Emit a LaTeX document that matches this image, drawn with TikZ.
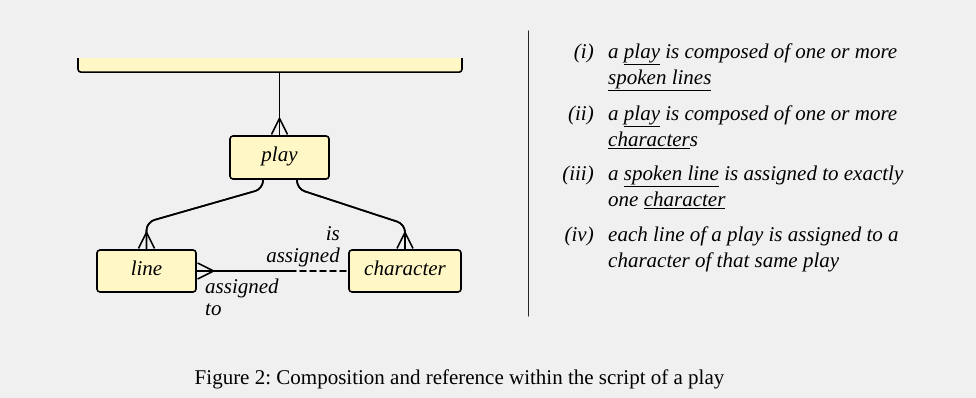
\documentclass[tikz,border=0pt]{standalone}
\usepackage{fontspec}
\setmainfont{Liberation Serif}
\usetikzlibrary{arrows.meta}
\definecolor{bg}{HTML}{F0F0F0}
\definecolor{entfill}{HTML}{FFF8C6}
\newcommand\figfont{\fontsize{21}{26}\selectfont}
\tikzset{
  entity/.style={draw, fill=entfill, line width=1.6pt, rounded corners=3pt, inner sep=0pt,
    minimum height=42pt, text height=14.5pt, text depth=5.5pt, font=\figfont\itshape},
  link/.style={line width=1.6pt},
  crow/.style={postaction={draw, -{Straight Barb[reversed,length=16pt,width=16pt]}}},
  note/.style={inner sep=0pt, font=\figfont\itshape},
  rolename/.style={inner sep=0pt, font=\fontsize{21}{22}\selectfont\itshape},
}
\begin{document}
\begin{tikzpicture}[x=1pt,y=1pt,line cap=round]
  \fill[bg] (0,0) rectangle (976,398);
  \useasboundingbox (0,0) rectangle (976,398);

  \begin{scope}
    \clip (0,0) rectangle (976,339);
    \node[entity, minimum width=384pt, minimum height=40pt, anchor=south] (script) at (270,325) {};
  \end{scope}
  \node[entity, minimum width=99pt, minimum height=43pt] (play) at (279.5,240.5) {play};
  \node[entity, minimum width=99pt] (line) at (146.5,127) {line};
  \node[entity, minimum width=112pt] (character) at (405,127) {character};

  \draw[link, crow] (script.south -| play.north) -- (play.north);
  \draw[link, crow, rounded corners=8pt] ([xshift=-16.5pt]play.south) -- ++(0,-9)
    -- ([yshift=27pt]line.north) -- (line.north);
  \draw[link, crow, rounded corners=8pt] ([xshift=17.5pt]play.south) -- ++(0,-9)
    -- ([yshift=25pt]character.north) -- (character.north);

  \coordinate (split) at (290,127);
  \draw[link, crow] (split) -- (line.east);
  \draw[link, dash pattern=on 6pt off 4pt] (split) -- (character.west);

  \node[rolename, anchor=base east] (isassigned) at (340,157)
    {\begin{tabular}[t]{@{}r@{}}is\\assigned\end{tabular}};
  \node[rolename, anchor=base west] (assignedto) at (205,104.7)
    {\begin{tabular}[t]{@{}l@{}}assigned\\to\end{tabular}};

  \draw[line width=1.4pt, black!85] (528.3,367) -- (528.3,82);

  \node[note, anchor=base west] (item1) at (608,339.7)
    {\begin{tabular}[t]{@{}l@{}}a \underline{play} is composed of one or more\\\underline{spoken lines}\end{tabular}};
  \node[note, anchor=base west] (item2) at (608,277.3)
    {\begin{tabular}[t]{@{}l@{}}a \underline{play} is composed of one or more\\\underline{character}s\end{tabular}};
  \node[note, anchor=base west] (item3) at (608,217.3)
    {\begin{tabular}[t]{@{}l@{}}a \underline{spoken line} is assigned to exactly\\one \underline{character}\end{tabular}};
  \node[note, anchor=base west] (item4) at (608,156.3)
    {\begin{tabular}[t]{@{}l@{}}each line of a play is assigned to a\\character of that same play\end{tabular}};
  \node[note, anchor=base east, xshift=-14pt] (num1) at (item1.base west) {(i)};
  \node[note, anchor=base east, xshift=-14pt] (num2) at (item2.base west) {(ii)};
  \node[note, anchor=base east, xshift=-14pt] (num3) at (item3.base west) {(iii)};
  \node[note, anchor=base east, xshift=-14pt] (num4) at (item4.base west) {(iv)};

  \node[inner sep=0pt, font=\figfont, anchor=base] (caption) at (459.5,13)
    {Figure 2:\ Composition and reference within the script of a play};
\end{tikzpicture}
\end{document}
